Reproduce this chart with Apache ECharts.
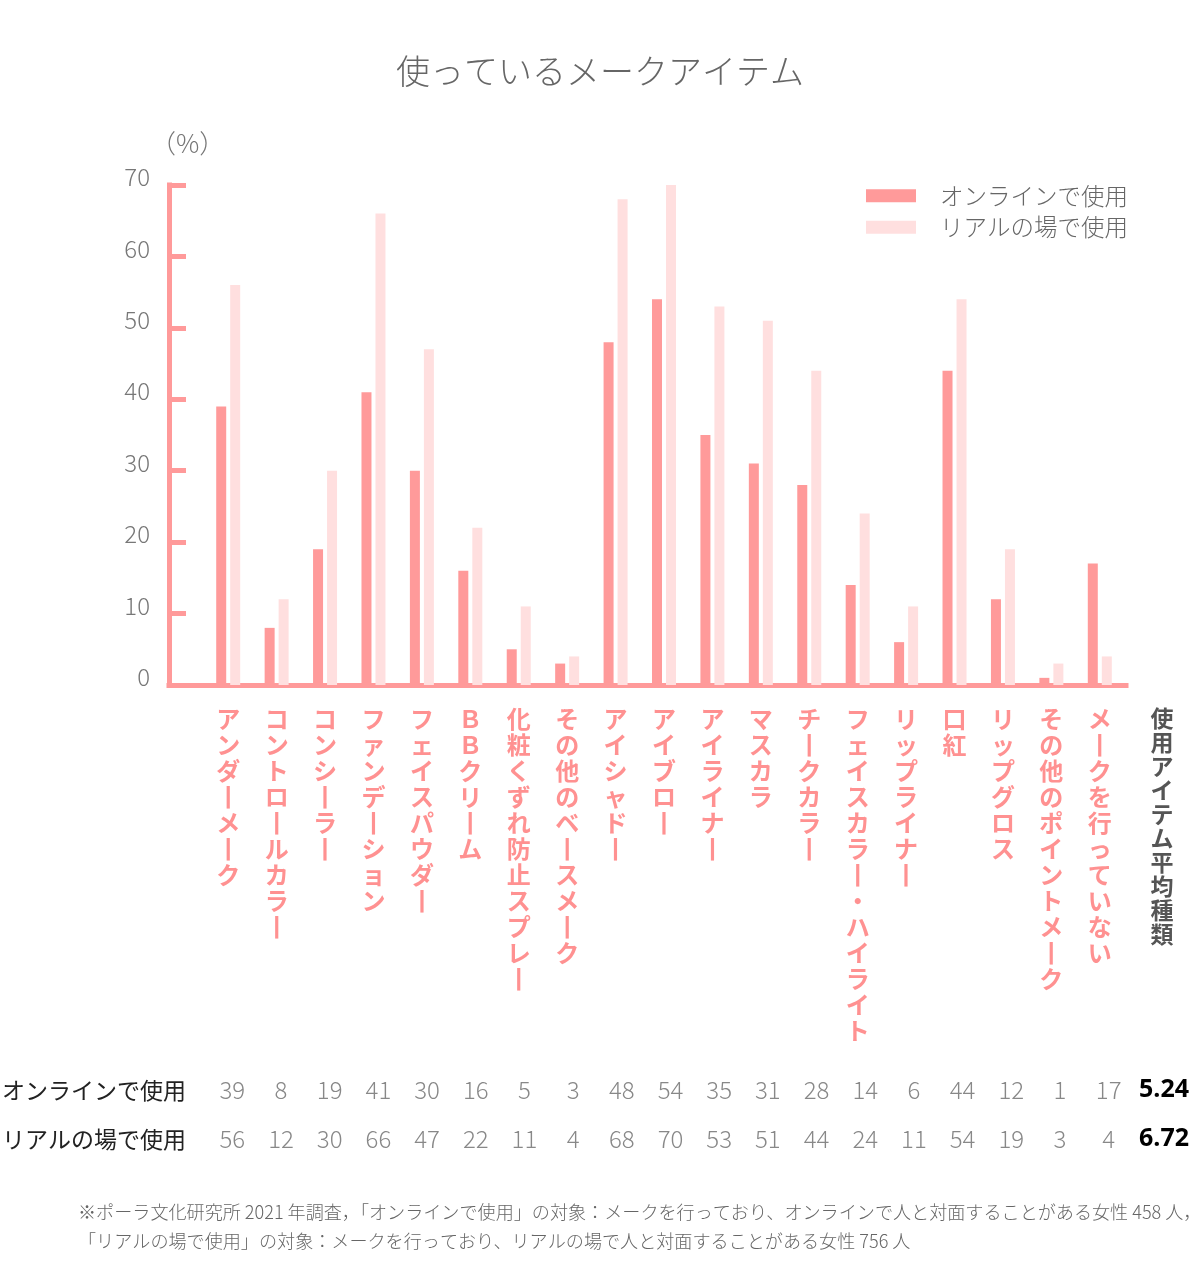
<!DOCTYPE html>
<html>
<head>
<meta charset="utf-8">
<script src="https://cdn.jsdelivr.net/npm/echarts@6/dist/echarts.min.js"></script>
<style>html,body{margin:0;padding:0;background:#fff;}#c{width:1200px;height:1284px;}</style>
</head>
<body>
<div id="c"></div>
<script>
const categories = ['アンダーメーク','コントロールカラー','コンシーラー','ファンデーション','フェイスパウダー','ＢＢクリーム','化粧くずれ防止スプレー','その他のベースメーク','アイシャドー','アイブロー','アイライナー','マスカラ','チークカラー','フェイスカラー・ハイライト','リップライナー','口紅','リップグロス','その他のポイントメーク','メークを行っていない'];
const onlineValues = [39,8,19,41,30,16,5,3,48,54,35,31,28,14,6,44,12,1,17];
const realValues = [56,12,30,66,47,22,11,4,68,70,53,51,44,24,11,54,19,3,4];
const seriesNames = ['オンラインで使用','リアルの場で使用'];
const averageValues = ['5.24','6.72'];
const averageHeader = '使用アイテム平均種類';
const yTicks = [0,10,20,30,40,50,60,70];
const titleText = '使っているメークアイテム';
const unitText = '（%）';
const noteText = '※ポーラ文化研究所 2021 年調査，「オンラインで使用」の対象：メークを行っており、オンラインで人と対面することがある女性 458 人，\n「リアルの場で使用」の対象：メークを行っており、リアルの場で人と対面することがある女性 756 人';

const FONT = '"Noto Sans CJK JP", "Noto Sans", sans-serif';
const C_ON = '#ff9a9a';
const C_RE = '#ffdfdf';
const C_AXIS = '#ff9a9a';
const vert = s => s.split('').map(c => c === 'ー' ? '丨' : c).join('\n');

const chart = echarts.init(document.getElementById('c'));
chart.setOption({
  backgroundColor: '#fff',
  textStyle: { fontFamily: FONT },
  title: {
    text: titleText, left: 'center', top: 49,
    textStyle: { fontFamily: FONT, fontSize: 34, fontWeight: 300, color: '#666' }
  },
  legend: {
    data: seriesNames, orient: 'vertical', left: 866, top: 184, padding: 0,
    icon: 'rect', itemWidth: 50, itemHeight: 13, itemGap: 8,
    textStyle: { fontFamily: FONT, fontSize: 23.5, fontWeight: 300, color: '#666', padding: [0,0,0,19] }
  },
  grid: [
    { left: 169, right: 74, top: 185, bottom: 599 },
    { left: 204, right: 76, top: 185, bottom: 599 },
    { left: 208, right: 67, top: 185, bottom: 599 }
  ],
  xAxis: [
    { type: 'value', gridIndex: 0, min: 0, max: 1, axisLine: { show: true, lineStyle: { color: C_AXIS, width: 5, cap: 'square' } }, axisTick: { show: false }, axisLabel: { show: false }, splitLine: { show: false } },
    { type: 'category', gridIndex: 1, data: categories, axisLine: { show: false }, axisTick: { show: false },
      axisLabel: { interval: 0, margin: 21, formatter: v => vert(v), color: '#ff9191', fontFamily: FONT, fontSize: 24, fontWeight: 'bold', lineHeight: 26, verticalAlign: 'top' } },
    { type: 'category', gridIndex: 2, position: 'bottom', offset: 405, data: onlineValues.map(String), axisLine: { show: false }, axisTick: { show: false },
      axisLabel: { interval: 0, margin: 0, verticalAlign: 'middle', color: '#888', fontFamily: FONT, fontSize: 24, fontWeight: 300 } },
    { type: 'category', gridIndex: 2, position: 'bottom', offset: 454, data: realValues.map(String), axisLine: { show: false }, axisTick: { show: false },
      axisLabel: { interval: 0, margin: 0, verticalAlign: 'middle', color: '#888', fontFamily: FONT, fontSize: 24, fontWeight: 300 } }
  ],
  yAxis: [
    { type: 'value', gridIndex: 0, min: yTicks[0], max: yTicks[yTicks.length-1], interval: 10,
      axisLine: { show: true, lineStyle: { color: C_AXIS, width: 5, cap: 'square' } },
      axisTick: { show: true, inside: true, length: 17, lineStyle: { color: C_AXIS, width: 5 } },
      axisLabel: { margin: 19, color: '#777', fontFamily: FONT, fontSize: 24, fontWeight: 300, verticalAlign: 'bottom', lineHeight: 16 },
      splitLine: { show: false } },
    { type: 'value', gridIndex: 1, min: 0, max: 70, show: false, splitLine: { show: false } },
    { type: 'value', gridIndex: 2, min: 0, max: 70, show: false, splitLine: { show: false } }
  ],
  graphic: [
    { type: 'text', left: 150, top: 130, style: { text: unitText, font: '300 26px ' + FONT, fill: '#777' } },
    { type: 'text', x: 2, y: 1090, style: { text: seriesNames[0], font: '23px ' + FONT, fill: '#222', verticalAlign: 'middle' } },
    { type: 'text', x: 2, y: 1139, style: { text: seriesNames[1], font: '23px ' + FONT, fill: '#222', verticalAlign: 'middle' } },
    { type: 'text', x: 1189, y: 1090, style: { text: averageValues[0], font: 'bold 25px "Open Sans", ' + FONT, fill: '#000', align: 'right', verticalAlign: 'middle' } },
    { type: 'text', x: 1189, y: 1139, style: { text: averageValues[1], font: 'bold 25px "Open Sans", ' + FONT, fill: '#000', align: 'right', verticalAlign: 'middle' } },
    { type: 'text', x: 1162, y: 706, style: { text: vert(averageHeader), font: 'bold 23px ' + FONT, fill: '#555', align: 'center', verticalAlign: 'top', lineHeight: 24 } },
    { type: 'text', x: 78, y: 1198, style: { text: noteText, font: '300 18.1px ' + FONT, fill: '#666', lineHeight: 29 } }
  ],
  series: [
    { name: seriesNames[0], type: 'bar', xAxisIndex: 1, yAxisIndex: 1, data: onlineValues, barWidth: 10, barGap: '40%', itemStyle: { color: C_ON }, z: 3 },
    { name: seriesNames[1], type: 'bar', xAxisIndex: 1, yAxisIndex: 1, data: realValues, barWidth: 10, barGap: '40%', itemStyle: { color: C_RE }, z: 3 }
  ]
});
</script>
</body>
</html>
